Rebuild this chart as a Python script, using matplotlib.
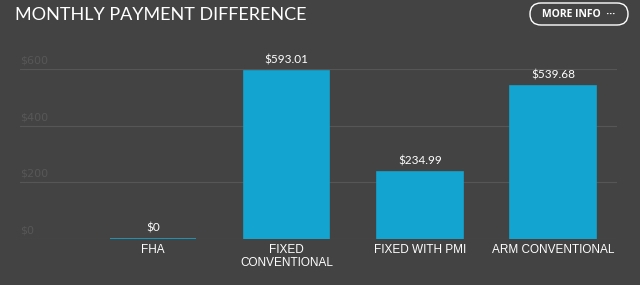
import matplotlib.pyplot as plt
from matplotlib.patches import FancyBboxPatch

categories = ['FHA', 'FIXED\nCONVENTIONAL', 'FIXED WITH PMI', 'ARM CONVENTIONAL']
values = [0, 593.01, 234.99, 539.68]
value_labels = ['$0', '$593.01', '$234.99', '$539.68']
yticks = [0, 200, 400, 600]
ytick_labels = ['$0', '$200', '$400', '$600']

bg = '#434343'
bar_color = '#13a4cf'

fig = plt.figure(figsize=(6.4, 2.85), dpi=100, facecolor=bg)
ax = fig.add_axes([20/640, 1 - 239/285, 597/640, 170/285], facecolor=bg)

x = list(range(len(categories)))
ax.bar(x, values, width=0.645, color=bar_color, edgecolor=bar_color, linewidth=1.2, zorder=3)

for xi, v, lab in zip(x, values, value_labels):
    ax.annotate(lab, (xi, v), xytext=(0, 4), textcoords='offset points',
                ha='center', va='bottom', color='white', fontsize=8.5, family='Lato')

# gridlines with labels sitting above them
for t, lab in zip(yticks, ytick_labels):
    ax.axhline(t, color='#565656', lw=0.8, zorder=1)
    ax.text(-1.0, t + 12, lab, color='#575757', fontsize=8, family='DejaVu Sans',
            ha='left', va='bottom', clip_on=False)

for xi, c in zip(x, categories):
    ax.text(xi, -18, c, color='white', fontsize=8.5, family='Liberation Sans',
            ha='center', va='top', linespacing=1.05)

ax.set_xlim(-1.0, 3.48)
ax.set_ylim(0, 600)
ax.axis('off')

# overlay in pixel units for the header
hdr = fig.add_axes([0, 0, 1, 1], facecolor='none')
hdr.set_xlim(0, 640)
hdr.set_ylim(285, 0)
hdr.axis('off')

hdr.text(15, 15, 'MONTHLY PAYMENT DIFFERENCE', color='white',
         fontsize=13, family='Lato', ha='left', va='center')

btn = FancyBboxPatch((530, 3), 98, 22, boxstyle='round,pad=0,rounding_size=11',
                     facecolor='none', edgecolor='white', lw=1.0)
hdr.add_patch(btn)
hdr.text(579, 14.5, 'MORE INFO  \u00b7\u00b7\u00b7', color='white',
         fontsize=7.5, family='Open Sans', weight='bold', ha='center', va='center')

fig.savefig('out.png', dpi=100, facecolor=bg)
